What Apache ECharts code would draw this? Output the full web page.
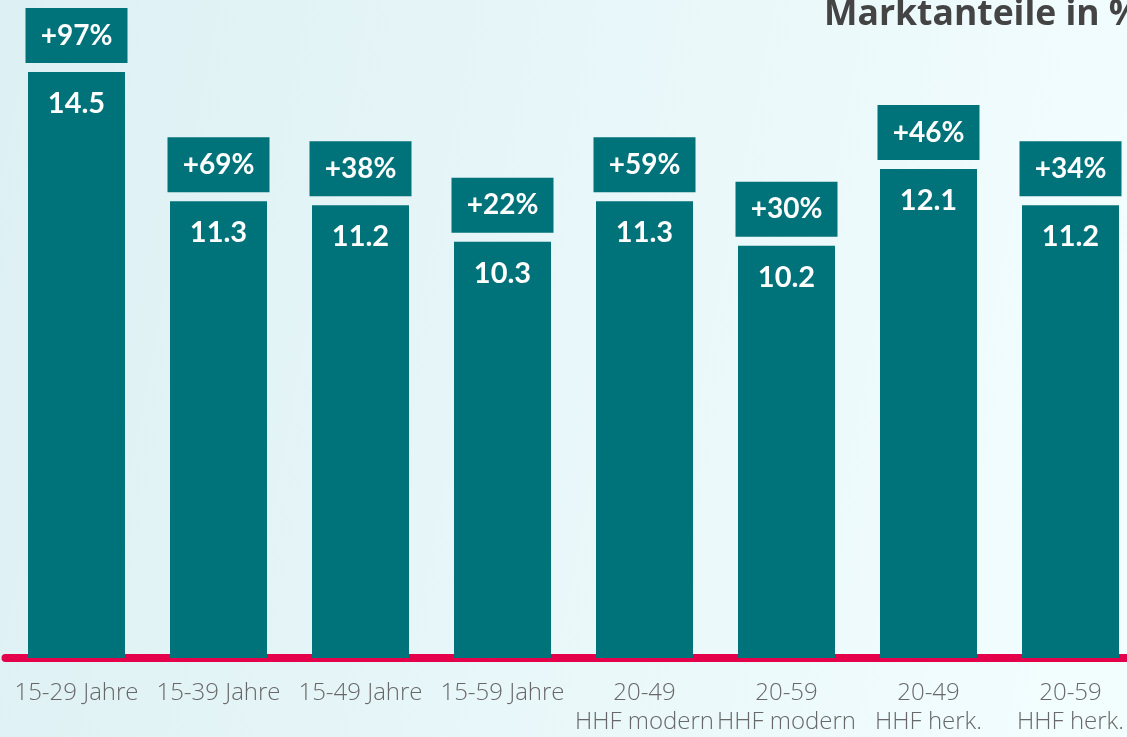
<!DOCTYPE html>
<html>
<head>
<meta charset="utf-8">
<script src="https://cdn.jsdelivr.net/npm/echarts@6/dist/echarts.min.js"></script>
<style>
html,body{margin:0;padding:0;overflow:hidden;width:1127px;height:737px;}
#c{width:1160px;height:737px;}
</style>
</head>
<body>
<div id="c"></div>
<script>
var categories = ['15-29 Jahre','15-39 Jahre','15-49 Jahre','15-59 Jahre','20-49\nHHF modern','20-59\nHHF modern','20-49\nHHF herk.','20-59\nHHF herk.'];
var shares = [14.5, 11.3, 11.2, 10.3, 11.3, 10.2, 12.1, 11.2];
var growth = ['+97%','+69%','+38%','+22%','+59%','+30%','+46%','+34%'];
var titleText = 'Marktanteile in %';

var chart = echarts.init(document.getElementById('c'));
var font = '"Open Sans", Lato, sans-serif';
chart.setOption({
  animation: false,
  backgroundColor: {type:'linear', x:0, y:0, x2:1, y2:0.3, colorStops:[{offset:0,color:'#ddf0f3'},{offset:1,color:'#f2fdfe'}]},
  title: {text: titleText, left: 819, top: -8, textStyle:{fontFamily:font, fontWeight:'bold', fontSize:35.5, color:'#444444'}},
  grid: {left: 5.5, width: 1136, top: 72, bottom: 72, containLabel:false},
  xAxis: {
    type:'category', data: categories, offset: 5,
    axisLine:{show:true, lineStyle:{color:'#e4004b', width:8}},
    axisTick:{show:false},
    axisLabel:{interval:0, margin:16, fontFamily:font, fontWeight:300, fontSize:24, lineHeight:29, color:'#686868'}
  },
  yAxis: {type:'value', min:0, max:14.5, show:false, splitLine:{show:false}},
  series: [
    {
      type:'bar', data: shares, barWidth: 97, z:3,
      itemStyle:{color:'#007279'},
      label:{show:true, position:'insideTop', distance:17, color:'#ffffff', fontFamily:'Lato, sans-serif', fontWeight:'bold', fontSize:29,
        formatter: function(p){ return p.value.toFixed(1); }}
    },
    {
      type:'bar', data: shares, barWidth: 97, barGap:'-100%', z:2,
      itemStyle:{color:'rgba(0,0,0,0)'},
      label:{show:true, position:'top', distance:9, color:'#ffffff', backgroundColor:'#007279',
        fontFamily:'Lato, sans-serif', fontWeight:'bold', fontSize:28, lineHeight:27, width:80, align:'center', padding:[14,11],
        formatter: function(p){ return growth[p.dataIndex]; }}
    }
  ]
});
</script>
</body>
</html>
